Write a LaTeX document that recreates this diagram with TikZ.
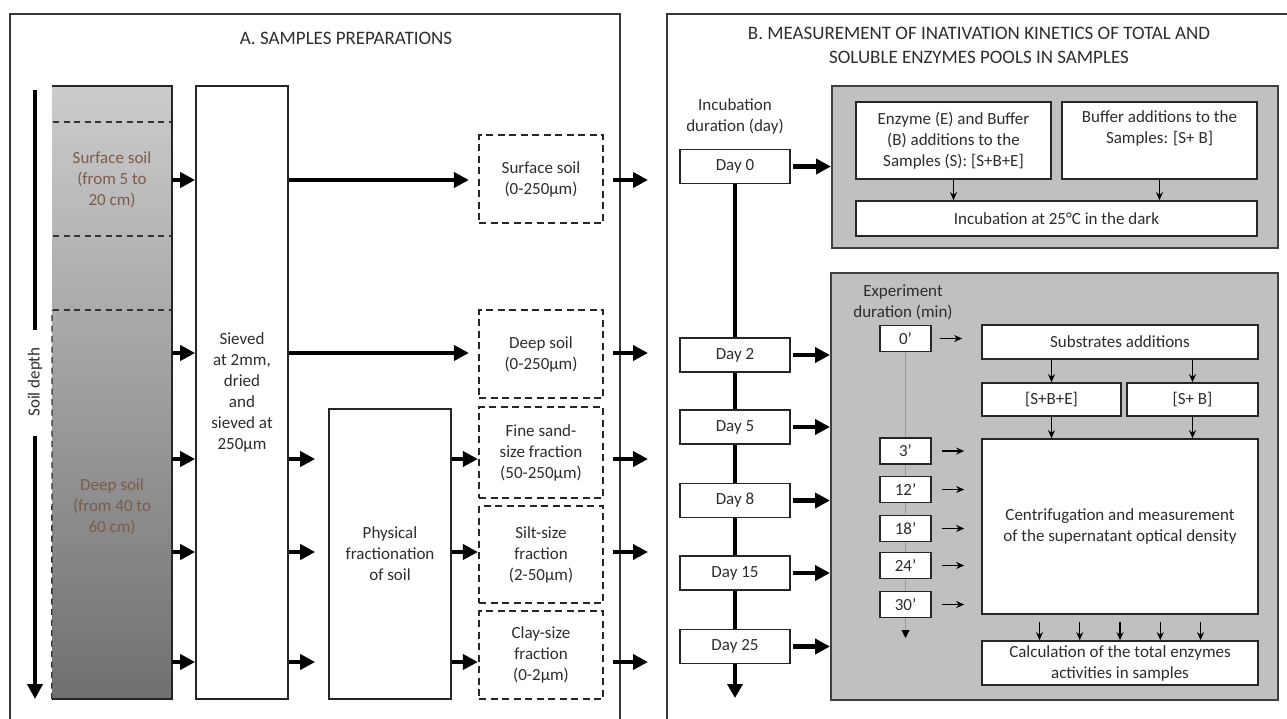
\documentclass[tikz,border=0pt]{standalone}
\usepackage{fontspec}
\setmainfont{Carlito}
\usetikzlibrary{positioning, arrows.meta, calc}
\definecolor{soiltext}{RGB}{122,92,76}
\definecolor{soiltop}{RGB}{204,204,204}
\definecolor{soilbot}{RGB}{112,112,112}
\definecolor{framegray}{RGB}{55,55,55}
\definecolor{panelfill}{RGB}{192,192,192}
\definecolor{inkgray}{RGB}{45,45,45}
\tikzset{
  bodytext/.style={align=center, text=inkgray, font=\fontsize{17}{21}\selectfont},
  titletext/.style={align=center, text=inkgray, font=\fontsize{19}{24}\selectfont},
  panelline/.style={draw=framegray, line width=1.5pt},
  whitebox/.style={bodytext, draw=black!85, line width=1.7pt, fill=white, inner sep=2pt},
  fracbox/.style={bodytext, draw=black!85, line width=2.2pt, dash pattern=on 7pt off 4.5pt,
                  minimum width=124pt, inner sep=2pt},
  daybox/.style={whitebox, minimum width=110pt, minimum height=34pt},
  minbox/.style={whitebox, minimum width=51pt, minimum height=26pt},
  graybox/.style={draw=black!75, line width=2pt, fill=panelfill, inner sep=0pt},
  soilcol/.style={minimum width=120pt, minimum height=613pt, inner sep=0pt,
                  top color=soiltop, bottom color=soilbot},
  soildash/.style={draw=black!80, line width=1.3pt, dash pattern=on 6pt off 4.5pt},
  bigarrow/.style={-{Triangle[length=15pt,width=15pt]}, line width=4.5pt},
  timeline/.style={line width=4.5pt},
  thinarrow/.style={-{Stealth[length=8pt,width=7pt]}, line width=1.2pt},
  minline/.style={draw=black!40, line width=1pt}
}

\begin{document}
\begin{tikzpicture}[x=1pt, y=-1pt]
\useasboundingbox (0,0) rectangle (1287,718);
\clip (0,0) rectangle (1287,718);

% panel A: samples preparations
\draw[panelline] (10,14) rectangle (620,740);
\node[titletext] (titleA) at (346,38) {A. SAMPLES PREPARATIONS};

\foreach \y [count=\i] in {180,353,459,552,662}
  \coordinate (lvl\i) at (0,\y);

% soil column
\node[soilcol] (column) at (112,392.5) {};
\draw[line width=1.6pt, draw=black!85] (column.south west) -- (column.south east)
  -- (column.north east) -- (column.north west);
\draw[soildash] (column.south west) -- (52,310);
\foreach \y in {122,236,310}
  \draw[soildash] (53,\y) -- (171,\y);
\node[bodytext, text=soiltext] (surface) at (112,180) {Surface soil\\(from 5 to\\20 cm)};
\node[bodytext, text=soiltext] (deep) at (112,507) {Deep soil\\(from 40 to\\60 cm)};

% soil depth axis
\coordinate (dtop) at (35,90);
\coordinate (dbot) at (35,699);
\node[bodytext, rotate=90] (depth) at (35,382) {Soil depth};
\draw[timeline, shorten >=14pt] (dtop) -- (depth.east);
\draw[timeline, -{Triangle[length=15pt,width=15pt]}, shorten <=16pt] (depth.west) -- (dbot);

\node[whitebox, minimum width=92pt, minimum height=613pt] (sieve) at (242,392.5)
  {Sieved\\at 2mm,\\dried\\and\\sieved at\\250µm};
\node[whitebox, minimum width=122pt, minimum height=290pt] (phys) at (390,554)
  {Physical\\fractionation\\of soil};

\node[fracbox, minimum height=88pt] (fsurf) at (541,179) {Surface soil\\(0-250µm)};
\node[fracbox, minimum height=88pt] (fdeep) at (541,354) {Deep soil\\(0-250µm)};
\node[fracbox, minimum height=91pt] (fsand) at (541,452.5) {Fine sand-\\size fraction\\(50-250µm)};
\node[fracbox, minimum height=97pt] (fsilt) at (541,554.5) {Silt-size\\fraction\\(2-50µm)};
\node[fracbox, minimum height=88pt] (fclay) at (541,655) {Clay-size\\fraction\\(0-2µm)};

\foreach \i in {1,...,5}
  \draw[bigarrow] (column.east |- lvl\i) -- (sieve.west |- lvl\i);
\draw[bigarrow, shorten >=9pt] (sieve.east |- lvl1) -- (fsurf.west |- lvl1);
\draw[bigarrow, shorten >=9pt] (sieve.east |- lvl2) -- (fdeep.west |- lvl2);
\foreach \i/\b in {3/fsand,4/fsilt,5/fclay}{
  \draw[bigarrow, shorten >=13pt] (sieve.east |- lvl\i) -- (phys.west |- lvl\i);
  \draw[bigarrow] (phys.east |- lvl\i) -- (\b.west |- lvl\i);
}
\coordinate (bedge) at (648,0);
\foreach \b/\i in {fsurf/1,fdeep/2,fsand/3,fsilt/4,fclay/5}
  \draw[bigarrow, shorten <=9pt] (\b.east |- lvl\i) -- (bedge |- lvl\i);

% panel B: inactivation kinetics
\draw[panelline] (667,14) rectangle (1300,740);
\node[titletext] (titleB) at (979,45)
  {B. MEASUREMENT OF INATIVATION KINETICS OF TOTAL AND\\SOLUBLE ENZYMES POOLS IN SAMPLES};
\node[bodytext] (inclabel) at (735,116) {Incubation\\duration (day)};

\node[graybox, minimum width=446pt, minimum height=162pt] (topgray) at (1055,167) {};
\node[graybox, minimum width=447pt, minimum height=427pt] (botgray) at (1054.5,486.5) {};

\foreach \d/\y in {0/166.5,2/355,5/427,8/500.5,15/573,25/646.5}
  \node[daybox] (day\d) at (735,\y) {Day \d};
\foreach \a/\b in {0/2,2/5,5/8,8/15,15/25}
  \draw[timeline] (day\a.south) -- (day\b.north);
\coordinate (tend) at (735,698);
\draw[timeline, -{Triangle[length=14pt,width=15pt]}] (day25.south) -- (tend);

\draw[bigarrow, shorten <=2pt] (day0.east) -- (topgray.west |- day0.east);
\foreach \d in {2,5,8,15,25}
  \draw[bigarrow, shorten <=2pt] (day\d.east) -- (botgray.west |- day\d.east);

% day 0 preparation
\node[whitebox, minimum width=195pt, minimum height=77pt] (enz) at (953.5,140.5)
  {Enzyme (E) and Buffer\\(B) additions to the\\Samples (S): [S+B+E]};
\node[whitebox, minimum width=195pt, minimum height=77pt] (buf) at (1159.5,140.5)
  {Buffer additions to the\\Samples: [S+ B]\\\strut};
\node[whitebox, minimum width=401pt, minimum height=35pt] (incub) at (1056.5,218.5)
  {Incubation at 25°C in the dark};
\draw[thinarrow] (enz.south) -- (enz.south |- incub.north);
\draw[thinarrow] (buf.south) -- (buf.south |- incub.north);

% kinetics measurement
\node[bodytext] (explabel) at (903,302) {Experiment\\duration (min)};
\foreach \m/\y in {0/338.5,3/451,12/489.5,18/528.5,24/565.5,30/604.5}
  \node[minbox] (m\m) at (905.5,\y) {\m'};
\foreach \a/\b in {0/3,3/12,12/18,18/24,24/30}
  \draw[minline] (m\a.south) -- (m\b.north);
\coordinate (mend) at (905.5,638);
\draw[minline, -{Triangle[length=8pt,width=8pt,black]}] (m30.south) -- (mend);

\node[whitebox, minimum width=276pt, minimum height=34pt] (subs) at (1120,342) {Substrates additions};
\node[whitebox, minimum width=139pt, minimum height=33pt] (sbe) at (1051.5,399.5) {[S+B+E]};
\node[whitebox, minimum width=131pt, minimum height=33pt] (sb) at (1192.5,399.5) {[S+ B]};
\node[whitebox, minimum width=276pt, minimum height=175pt] (centri) at (1120,526.5)
  {Centrifugation and measurement\\of the supernatant optical density};
\node[whitebox, minimum width=276pt, minimum height=44pt] (calc) at (1120,663)
  {Calculation of the total enzymes\\activities in samples};

\draw[thinarrow, shorten <=8pt, shorten >=19pt] (m0.east) -- (subs.west |- m0.east);
\foreach \m in {3,12,18,24,30}
  \draw[thinarrow, shorten <=10pt, shorten >=17pt] (m\m.east) -- (centri.west |- m\m.east);
\draw[thinarrow] (sbe.north |- subs.south) -- (sbe.north);
\draw[thinarrow] (sb.north |- subs.south) -- (sb.north);
\draw[thinarrow] (sbe.south) -- (sbe.south |- centri.north);
\draw[thinarrow] (sb.south) -- (sb.south |- centri.north);
\foreach \f in {0.21,0.355,0.5,0.645,0.79}
  \draw[thinarrow, shorten <=7pt] ($(centri.south west)!\f!(centri.south east)$)
    -- ($(calc.north west)!\f!(calc.north east)$);
\end{tikzpicture}
\end{document}
